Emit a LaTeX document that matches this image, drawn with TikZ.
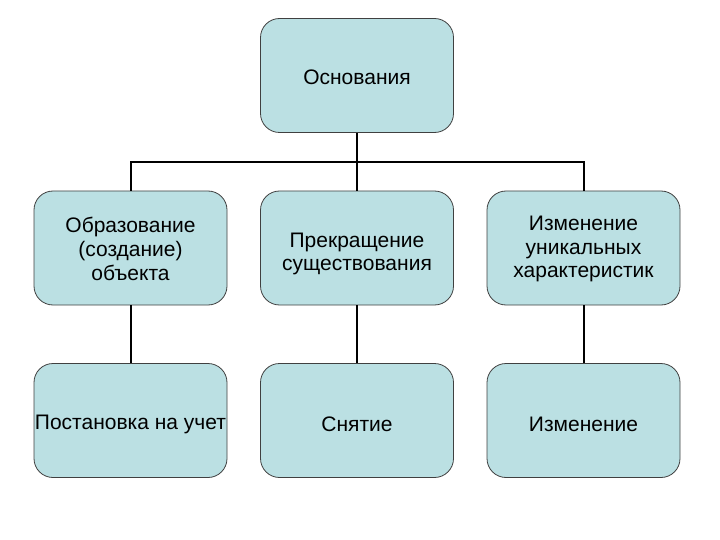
\documentclass[tikz,border=0pt]{standalone}
\usepackage{fontspec}
\setmainfont{Liberation Sans}
\definecolor{boxfill}{HTML}{BBE0E3}
\definecolor{boxline}{HTML}{404040}
\begin{document}
\begin{tikzpicture}[x=1pt,y=-1pt,
  box/.style={draw=boxline, line width=0.8pt, fill=boxfill, rounded corners=19pt,
    minimum width=193pt, minimum height=114pt, inner sep=0pt},
  boxtext/.style={align=center, inner sep=0pt,
    font=\fontsize{21}{23.8}\selectfont},
  conn/.style={line width=2pt, black}]
\useasboundingbox (0,0) rectangle (720,540);
\node[box] (top) at (357,75.5) {};
\node[box] (m1) at (130.5,248) {};
\node[box] (m2) at (357,248) {};
\node[box] (m3) at (583.5,248) {};
\node[box] (b1) at (130.5,420.5) {};
\node[box] (b2) at (357,420.5) {};
\node[box] (b3) at (583.5,420.5) {};
\node[boxtext] (topt) at ([yshift=-2pt]top.center) {Основания};
\node[boxtext] (m1t) at ([yshift=-1pt]m1.center) {Образование\\(создание)\\объекта};
\node[boxtext] (m2t) at ([yshift=-6pt]m2.center) {Прекращение\\существования};
\node[boxtext] (m3t) at ([yshift=-1pt]m3.center) {Изменение\\уникальных\\характеристик};
\node[boxtext] (b1t) at ([yshift=-4pt]b1.center) {Постановка на учет};
\node[boxtext] (b2t) at ([yshift=-4pt]b2.center) {Снятие};
\node[boxtext] (b3t) at ([yshift=-4pt]b3.center) {Изменение};
\coordinate (j) at (357,162.5);
\draw[conn] (top.south) -- (j);
\draw[conn] (m1.north) |- (j) -| (m3.north);
\draw[conn] (j) -- (m2.north);
\draw[conn] (m1.south) -- (b1.north);
\draw[conn] (m2.south) -- (b2.north);
\draw[conn] (m3.south) -- (b3.north);
\end{tikzpicture}
\end{document}
